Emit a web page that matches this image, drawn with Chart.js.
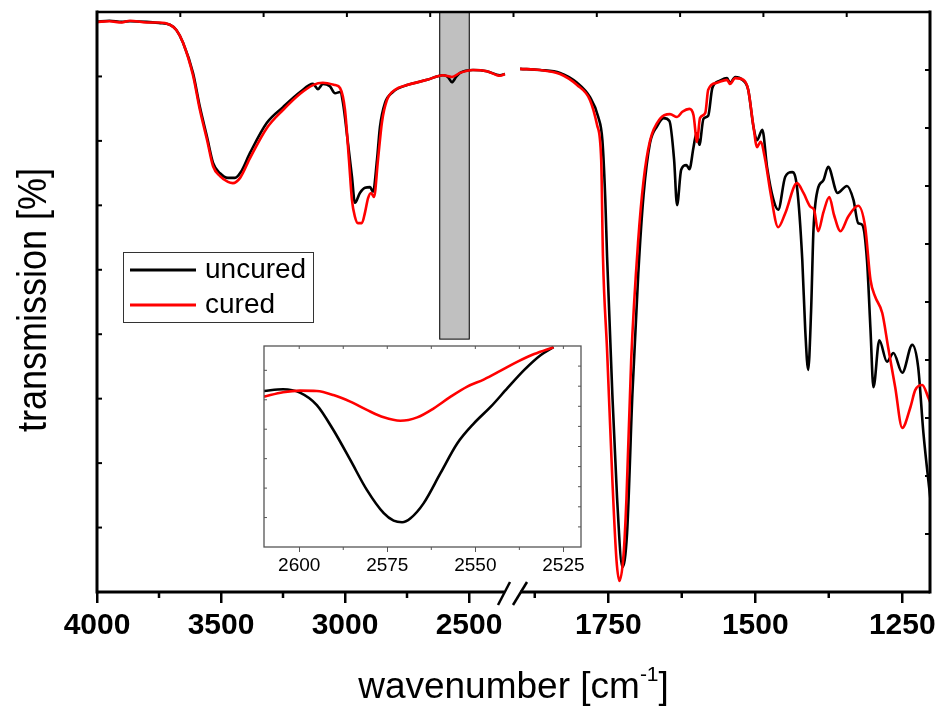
<!DOCTYPE html>
<html lang="en">
<head>
<meta charset="UTF-8">
<title>FTIR spectra: uncured vs cured</title>
<script src="https://cdn.jsdelivr.net/npm/chart.js"></script>
<style>
  body { margin: 0; background: #fff; }
  .wrap { position: relative; width: 938px; height: 709px; }
  #main { position: absolute; left: 0; top: 0; }
  #inset { position: absolute; left: 250px; top: 330px; }
</style>
</head>
<body>
<div class="wrap">
  <canvas id="main" width="938" height="709"></canvas>
  <canvas id="inset" width="345" height="255"></canvas>
</div>
<script>
// Values. Wavenumbers in cm-1, transmission in arbitrary % (frame bottom = 0, top = 100).
const uncuredHighWn = [4000, 3950, 3900, 3867, 3800, 3750, 3706, 3680, 3653, 3613, 3585, 3556, 3532, 3504, 3472, 3444, 3420, 3383, 3315, 3250,
  3181, 3129, 3109, 3089, 3061, 3040, 3020, 3008, 2988, 2972, 2960, 2940, 2919, 2899, 2887, 2871, 2859, 2839, 2807, 2750,
  2669, 2605, 2585, 2569, 2552, 2536, 2484, 2428, 2375, 2355];
const uncuredHigh = [98.3, 98.5, 98.3, 98.4, 98.3, 98.1, 97.8, 96.9, 94.7, 89.5, 83.6, 78.4, 74.0, 72.2, 71.4, 71.4, 72.4, 75.7, 80.9, 83.6,
  86.2, 87.6, 86.7, 87.6, 87.2, 86.0, 86.2, 84.3, 77.4, 71.6, 67.1, 68.8, 69.7, 69.8, 69.0, 74.5, 80.2, 84.3, 86.2, 87.4,
  88.3, 89.1, 88.8, 87.9, 88.8, 89.5, 90.0, 89.8, 89.1, 89.3];

const curedHighWn = [4000, 3950, 3900, 3867, 3800, 3750, 3706, 3680, 3653, 3613, 3585, 3556, 3532, 3504, 3472, 3452, 3423, 3383, 3315, 3250,
  3181, 3129, 3089, 3040, 3020, 3000, 2984, 2972, 2960, 2948, 2932, 2919, 2907, 2895, 2883, 2867, 2851, 2831, 2798, 2750,
  2669, 2605, 2569, 2536, 2484, 2428, 2375, 2355];
const curedHigh = [98.3, 98.4, 98.2, 98.5, 98.2, 98.2, 97.8, 96.9, 94.7, 89.1, 83.1, 77.9, 73.4, 71.7, 70.7, 70.5, 71.4, 74.8, 80.0, 83.1,
  85.9, 87.4, 87.8, 87.4, 86.9, 83.1, 74.5, 67.6, 64.7, 63.6, 63.6, 65.5, 67.9, 68.8, 68.1, 74.5, 81.0, 84.8, 86.6, 87.4,
  88.3, 89.1, 88.8, 89.5, 90.0, 89.8, 89.0, 89.3];

const uncuredLowWn = [1900, 1866, 1832, 1803, 1781, 1767, 1760, 1755, 1752, 1743, 1735, 1726, 1718, 1709, 1699, 1690, 1679, 1667, 1656, 1646,
  1638, 1633, 1626, 1617, 1612, 1605, 1600, 1595, 1588, 1580, 1573, 1561, 1548, 1543, 1534, 1522, 1512, 1503, 1497, 1488,
  1480, 1469, 1461, 1449, 1437, 1429, 1420, 1415, 1410, 1405, 1401, 1394, 1384, 1376, 1360, 1344, 1333, 1325, 1318, 1310,
  1304, 1299, 1289, 1276, 1265, 1250, 1233, 1223, 1214, 1202];
const uncuredLow = [90.2, 90.0, 89.5, 87.8, 85.3, 81.9, 77.9, 67.6, 57.8, 34.0, 16.2, 4.3, 10.2, 34.0, 54.8, 68.4, 77.4, 80.3, 81.7, 81.2,
  74.5, 66.7, 72.8, 73.6, 72.9, 76.7, 79.1, 77.1, 81.6, 82.1, 86.9, 88.1, 88.6, 87.8, 88.8, 88.3, 86.6, 80.2, 77.9, 79.7,
  73.3, 67.6, 65.9, 71.6, 72.4, 69.8, 57.2, 45.2, 38.3, 48.6, 62.4, 69.3, 71.0, 73.3, 68.8, 70.0, 67.6, 63.6, 63.3, 57.2,
  45.2, 35.3, 43.4, 39.7, 41.2, 37.8, 42.6, 38.8, 27.4, 15.9];

const curedLowWn = [1900, 1866, 1832, 1803, 1781, 1769, 1762, 1759, 1752, 1743, 1736, 1731, 1724, 1719, 1711, 1699, 1690, 1679, 1662, 1645,
  1633, 1624, 1612, 1605, 1599, 1594, 1585, 1580, 1565, 1548, 1543, 1534, 1520, 1512, 1503, 1497, 1491, 1483, 1474, 1461,
  1449, 1429, 1418, 1406, 1400, 1393, 1384, 1374, 1366, 1355, 1342, 1325, 1313, 1304, 1296, 1284, 1274, 1262, 1250, 1236,
  1228, 1216, 1206, 1202];
const curedLow = [90.2, 90.0, 89.3, 87.4, 84.8, 80.5, 74.5, 57.8, 41.7, 19.3, 5.5, 1.9, 6.4, 16.2, 40.0, 60.7, 70.9, 77.8, 81.6, 82.4,
  81.9, 82.8, 83.3, 82.2, 77.6, 81.7, 82.6, 86.6, 87.8, 88.3, 87.6, 88.6, 88.3, 86.6, 80.2, 76.7, 77.6, 74.5, 68.8, 62.9,
  65.3, 70.5, 68.8, 66.4, 65.9, 62.2, 65.5, 68.1, 65.0, 62.2, 64.7, 66.6, 62.9, 53.8, 50.9, 48.1, 42.2, 35.3, 28.3, 31.9,
  34.8, 35.7, 33.6, 32.6];

// inset: zoom on the 2570 cm-1 band (S-H)
const insetUncuredWn = [2610, 2604.6, 2599.8, 2595, 2590.3, 2585.5, 2580.8, 2576, 2573.2, 2570.8, 2568.4, 2564.7, 2559.9, 2555.1, 2550.4, 2545.6, 2540.9, 2536.1, 2531.4, 2527.8];
const insetUncured = [77.6, 78.5, 76.8, 70.6, 58.2, 43.3, 28.4, 16.8, 13.1, 12.3, 14.3, 21.7, 36.7, 51.6, 61.5, 69.8, 79.0, 88.1, 95.5, 99.4];
const insetCuredWn = [2610, 2604.6, 2599.8, 2595, 2590.3, 2585.5, 2580.8, 2576, 2571.3, 2566.5, 2561.8, 2557, 2552.3, 2547.5, 2542.8, 2538, 2533.3, 2527.8];
const insetCured = [74.8, 77.0, 77.8, 77.6, 75.6, 72.3, 68.2, 64.5, 62.8, 64.5, 69.0, 74.8, 79.8, 83.4, 87.7, 92.2, 96.0, 99.4];

const majorTicks = [4000, 3500, 3000, 2500, 1750, 1500, 1250];
const minorTicks = [3750, 3250, 2750, 1875, 1625, 1375];
const insetMajor = [2600, 2575, 2550, 2525];
const insetMinor = [2612.5, 2587.5, 2562.5, 2537.5];
const highlightBand = [2620, 2497]; // grey box marking the inset range

// broken x axis: 4000..~2323 on the left part, 1912..~1203 on the right part
const AXIS_LEN = 833, GAP_AT = 416;
const HIGH_START = 4000, LOW_START = 1912;
const K_HIGH = 0.248, K_LOW = 0.588;
function toAxis(wn) {
  return wn > 2100 ? (HIGH_START - wn) * K_HIGH : GAP_AT + (LOW_START - wn) * K_LOW;
}
function fromAxis(v) {
  return v <= GAP_AT ? HIGH_START - v / K_HIGH : LOW_START - (v - GAP_AT) / K_LOW;
}
const pts = (wn, t) => wn.map((w, i) => ({ x: toAxis(w), y: t[i] }));

const FONT = "'Liberation Sans', Arial, sans-serif";

function line(ctx, x0, y0, x1, y1) {
  ctx.beginPath(); ctx.moveTo(x0, y0); ctx.lineTo(x1, y1); ctx.stroke();
}

const mainDecor = {
  id: 'mainDecor',
  beforeDatasetsDraw(chart) {
    const { ctx, scales: { x, y } } = chart;
    const x0 = x.getPixelForValue(toAxis(highlightBand[0]));
    const x1 = x.getPixelForValue(toAxis(highlightBand[1]));
    const y0 = y.getPixelForValue(100), y1 = y.getPixelForValue(43.6);
    ctx.save();
    ctx.fillStyle = '#c0c0c0';
    ctx.fillRect(x0, y0, x1 - x0, y1 - y0);
    ctx.strokeStyle = '#000'; ctx.lineWidth = 1;
    ctx.strokeRect(x0 + 0.5, y0, x1 - x0 - 1, y1 - y0);
    ctx.restore();
  },
  afterDraw(chart) {
    const { ctx, chartArea: a, scales: { x, y } } = chart;
    ctx.save();
    ctx.strokeStyle = '#000';
    // frame, bottom axis broken
    const gx = x.getPixelForValue(GAP_AT);
    ctx.lineWidth = 3;
    line(ctx, a.left, a.top - 1.5, a.left, a.bottom + 1.5);
    line(ctx, a.right, a.top - 1.5, a.right, a.bottom + 1.5);
    ctx.lineWidth = 2.5;
    line(ctx, a.left, a.top, a.right, a.top);
    ctx.lineWidth = 3;
    line(ctx, a.left, a.bottom, gx - 9, a.bottom);
    line(ctx, gx + 7, a.bottom, a.right, a.bottom);
    ctx.lineWidth = 2.5;
    line(ctx, gx - 15, a.bottom + 13, gx - 3, a.bottom - 10);
    line(ctx, gx, a.bottom + 13, gx + 14, a.bottom - 10);
    // minor ticks, bottom (outward)
    ctx.lineWidth = 2.5;
    minorTicks.forEach(w => {
      const px = x.getPixelForValue(toAxis(w));
      line(ctx, px, a.bottom, px, a.bottom + 6);
    });
    // inward ticks: left (9 divisions), right (10), top (10)
    ctx.lineWidth = 2;
    for (let k = 1; k < 9; k++) {
      const py = y.getPixelForValue(k * 100 / 9);
      line(ctx, a.left, py, a.left + 5, py);
    }
    for (let k = 1; k < 10; k++) {
      const py = y.getPixelForValue(k * 10);
      line(ctx, a.right, py, a.right - 5, py);
      const px = x.getPixelForValue(k * AXIS_LEN / 10);
      line(ctx, px, a.top, px, a.top + 5);
    }
    // legend
    ctx.fillStyle = '#fff';
    ctx.fillRect(123, 252, 190, 70);
    ctx.strokeStyle = '#333'; ctx.lineWidth = 1;
    ctx.strokeRect(123.5, 252.5, 190, 70);
    ctx.lineWidth = 3;
    ctx.strokeStyle = '#000'; line(ctx, 130, 270, 196, 270);
    ctx.strokeStyle = '#ff0000'; line(ctx, 130, 305, 196, 305);
    ctx.fillStyle = '#000';
    ctx.font = '28px ' + FONT;
    ctx.textBaseline = 'middle';
    ctx.textAlign = 'left';
    ctx.fillText('uncured', 205, 270);
    ctx.fillText('cured', 205, 305);
    // axis titles
    ctx.font = '37px ' + FONT;
    ctx.textBaseline = 'alphabetic';
    const t1 = 'wavenumber [cm', sup = '-1', t2 = ']';
    const w1 = ctx.measureText(t1).width, w3 = ctx.measureText(t2).width;
    ctx.font = '21px ' + FONT;
    const w2 = ctx.measureText(sup).width;
    let tx = (a.left + a.right) / 2 - (w1 + w2 + w3) / 2;
    ctx.font = '37px ' + FONT;
    ctx.fillText(t1, tx, 698);
    ctx.font = '21px ' + FONT;
    ctx.fillText(sup, tx + w1, 681);
    ctx.font = '37px ' + FONT;
    ctx.fillText(t2, tx + w1 + w2, 698);
    ctx.save();
    ctx.translate(46, 300);
    ctx.rotate(-Math.PI / 2);
    ctx.scale(1, 1.12);
    ctx.font = '36px ' + FONT;
    ctx.textAlign = 'center';
    ctx.fillText('transmission [%]', 0, 0);
    ctx.restore();
    ctx.restore();
  }
};

new Chart(document.getElementById('main'), {
  type: 'line',
  data: {
    datasets: [
      { label: 'cured', data: pts(curedHighWn, curedHigh), borderColor: '#ff0000', order: 0 },
      { label: 'cured', data: pts(curedLowWn, curedLow), borderColor: '#ff0000', order: 0 },
      { label: 'uncured', data: pts(uncuredHighWn, uncuredHigh), borderColor: '#000', order: 1 },
      { label: 'uncured', data: pts(uncuredLowWn, uncuredLow), borderColor: '#000', order: 1 }
    ]
  },
  options: {
    responsive: false,
    animation: false,
    layout: { padding: { top: 12, right: 8, left: 0, bottom: 0 } },
    elements: {
      point: { radius: 0 },
      line: { borderWidth: 2.6, cubicInterpolationMode: 'monotone' }
    },
    plugins: { legend: { display: false }, tooltip: { enabled: false } },
    scales: {
      x: {
        type: 'linear', min: 0, max: AXIS_LEN,
        afterBuildTicks: s => { s.ticks = majorTicks.map(w => ({ value: toAxis(w) })); },
        afterFit: s => { s.height = 117; s.paddingLeft = 0; s.paddingRight = 0; },
        grid: { display: true, drawOnChartArea: false, drawTicks: true, tickLength: 11, lineWidth: 2.5, color: '#000' },
        border: { display: false },
        ticks: {
          autoSkip: false, maxRotation: 0, padding: 5, color: '#000',
          font: { family: FONT, size: 30, weight: 'bold' },
          callback: v => String(Math.round(fromAxis(v)))
        }
      },
      y: {
        min: 0, max: 100,
        afterFit: s => { s.width = 97; },
        grid: { display: false },
        border: { display: false },
        ticks: { display: false }
      }
    }
  },
  plugins: [mainDecor]
});

const insetDecor = {
  id: 'insetDecor',
  beforeDraw(chart) {
    const { ctx, chartArea: a } = chart;
    ctx.save();
    ctx.fillStyle = '#fff';
    ctx.fillRect(a.left, a.top, a.right - a.left, a.bottom - a.top);
    ctx.restore();
  },
  afterDraw(chart) {
    const { ctx, chartArea: a, scales: { x, y } } = chart;
    ctx.save();
    ctx.strokeStyle = '#555';
    ctx.lineWidth = 1.3;
    ctx.strokeRect(a.left, a.top, a.right - a.left, a.bottom - a.top);
    ctx.lineWidth = 1;
    insetMinor.forEach(w => {
      const px = x.getPixelForValue(w);
      if (px > a.left && px < a.right) line(ctx, px, a.bottom, px, a.bottom + 3);
    });
    [...insetMajor, ...insetMinor].forEach(w => {
      const px = x.getPixelForValue(w);
      if (px > a.left && px < a.right) line(ctx, px, a.top, px, a.top + 3);
    });
    for (let v = 14.65; v < 100; v += 14.65) {
      const py = y.getPixelForValue(v);
      line(ctx, a.left, py, a.left + 3, py);
    }
    for (let k = 1; k < 10; k++) {
      const py = y.getPixelForValue(k * 10);
      line(ctx, a.right, py, a.right - 3, py);
    }
    ctx.restore();
  }
};

new Chart(document.getElementById('inset'), {
  type: 'line',
  data: {
    datasets: [
      { label: 'cured', data: insetCuredWn.map((w, i) => ({ x: w, y: insetCured[i] })), borderColor: '#ff0000', order: 0 },
      { label: 'uncured', data: insetUncuredWn.map((w, i) => ({ x: w, y: insetUncured[i] })), borderColor: '#000', order: 1 }
    ]
  },
  options: {
    responsive: false,
    animation: false,
    layout: { padding: { top: 16, right: 14, left: 0, bottom: 0 } },
    elements: {
      point: { radius: 0 },
      line: { borderWidth: 2.6, cubicInterpolationMode: 'monotone' }
    },
    plugins: { legend: { display: false }, tooltip: { enabled: false } },
    scales: {
      x: {
        type: 'linear', reverse: true, min: 2520, max: 2610,
        afterBuildTicks: s => { s.ticks = insetMajor.map(v => ({ value: v })); },
        afterFit: s => { s.height = 38; s.paddingLeft = 0; s.paddingRight = 0; },
        grid: { display: true, drawOnChartArea: false, drawTicks: true, tickLength: 5, lineWidth: 1, color: '#555' },
        border: { display: false },
        ticks: {
          autoSkip: false, maxRotation: 0, padding: 2, color: '#000',
          font: { family: FONT, size: 19 },
          callback: v => String(v)
        }
      },
      y: {
        min: 0, max: 100,
        afterFit: s => { s.width = 14; },
        grid: { display: false },
        border: { display: false },
        ticks: { display: false }
      }
    }
  },
  plugins: [insetDecor]
});
</script>
</body>
</html>
